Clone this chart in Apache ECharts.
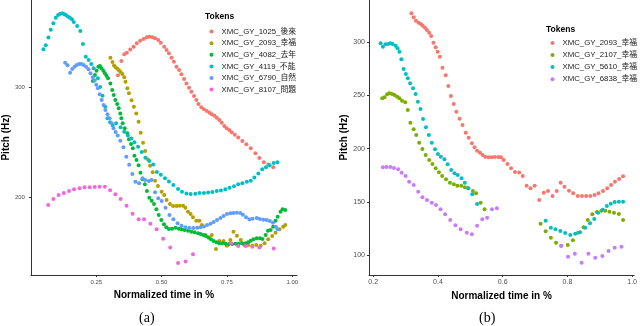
<!DOCTYPE html>
<html>
<head>
<meta charset="utf-8">
<script src="https://cdn.jsdelivr.net/npm/echarts@6/dist/echarts.min.js"></script>
<style>
  html, body { margin: 0; padding: 0; background: #fff; }
  #chart { width: 640px; height: 326px; }
</style>
</head>
<body>
<div id="chart"></div>
<script>
// ---- panel (a) ----
const namesA = ['XMC_GY_1025_後來', 'XMC_GY_2093_幸福', 'XMC_GY_4082_去年', 'XMC_GY_4119_不能', 'XMC_GY_6790_自然', 'XMC_GY_8107_問題']
const colorsA = ['#F8766D', '#B79F00', '#00BA38', '#00BFC4', '#619CFF', '#F564E3']
const xTicksA = [0.25, 0.5, 0.75, 1.0]
const yTicksA = [200, 300]

const a1025 = [[.333,310.6],[.346,323.6],[.357,329.7],[.367,331.2],[.380,334.2],[.393,336.7],[.405,339.7],[.418,342.1],[.431,343.6],[.443,345.2],[.453,345.8],[.465,345.2],[.475,344.3],[.487,342.7],[.497,340.3],[.510,336.7],[.519,333.6],[.528,330.6],[.538,326.7],[.547,323],[.557,318.5],[.567,315.5],[.576,311.5],[.586,307.3],[.595,303.3],[.605,299.4],[.614,295.8],[.624,291.8],[.633,288.2],[.641,284.5],[.652,281.5],[.662,279.7],[.673,278.2],[.683,276.7],[.692,275.2],[.702,273.9],[.711,272.1],[.721,270],[.730,267.6],[.740,264.5],[.749,262.4],[.759,260.9],[.768,258.8],[.780,256.5],[.793,254],[.809,251],[.824,248],[.841,244.3],[.859,239.7],[.874,235.5],[.891,231.5],[.908,229.5],[.927,227]]
const a2093 = [[.304,326.5],[.312,322.8],[.318,319.5],[.324,318],[.331,316.5],[.337,315.2],[.343,313.6],[.350,311.8],[.357,308.8],[.362,304.8],[.369,298.8],[.375,294.3],[.385,288],[.394,282],[.403,276],[.412,268.5],[.420,258.5],[.429,249.4],[.437,241.8],[.448,234.2],[.456,228.5],[.466,222.4],[.475,214.8],[.486,210],[.5,204.8],[.510,201.8],[.519,197.3],[.532,193.6],[.544,191.8],[.557,191.8],[.569,192.1],[.582,192.1],[.591,190.3],[.601,186.7],[.611,184.5],[.620,181.5],[.633,178.5],[.645,178.5],[.654,174.5],[.668,165.5],[.681,163.3],[.692,165.5],[.708,152.7],[.721,160],[.737,160],[.750,155.7],[.763,161],[.775,168.5],[.788,164.8],[.803,160.9],[.816,156.4],[.831,156.4],[.847,155.7],[.862,156.4],[.879,155.7],[.894,157.9],[.908,161.5],[.923,164.5],[.936,167.5],[.951,170.6],[.965,173],[.973,174.5]]
const a4082 = [[.237,305.5],[.245,310.9],[.251,314.8],[.258,318.5],[.264,319.1],[.270,317],[.277,314.8],[.283,312.4],[.289,310.3],[.295,307.9],[.304,303.3],[.311,297.3],[.317,292.7],[.323,288.2],[.330,284.5],[.336,280.6],[.342,276],[.346,271.5],[.351,267],[.359,262.5],[.369,257.9],[.375,252.5],[.383,248.2],[.390,244.3],[.396,237.6],[.404,233.6],[.412,228.8],[.419,222.1],[.427,216.1],[.436,211.5],[.444,205.5],[.453,199.4],[.462,196.6],[.471,193.6],[.480,188.8],[.489,183.6],[.499,179.1],[.509,175.2],[.518,172.5],[.528,170.9],[.540,171.2],[.553,172.1],[.566,171.2],[.576,170.6],[.588,170],[.601,169.4],[.614,168.5],[.626,167.9],[.639,167],[.649,166.4],[.659,165.5],[.669,164.5],[.679,163.3],[.689,161.5],[.699,160],[.710,158.8],[.720,157.9],[.732,157.9],[.745,157.6],[.758,157.3],[.770,157.3],[.783,157.6],[.795,157.6],[.808,157.9],[.821,157.9],[.831,158.8],[.841,160.3],[.851,161.5],[.864,162.4],[.876,162.4],[.886,161.8],[.898,165.5],[.907,169.4],[.917,170],[.927,173],[.936,178.5],[.944,182.1],[.955,186.7],[.963,188.8],[.973,188.2]]
const a4119 = [[.048,334.3],[.057,338],[.067,345],[.076,352],[.086,358],[.095,363],[.104,365.5],[.111,366.3],[.120,367],[.126,366.3],[.134,365.5],[.141,364],[.149,363],[.157,361.5],[.164,359],[.177,355.5],[.189,351],[.199,339],[.210,327.5],[.221,324.5],[.231,321],[.240,317],[.256,308],[.265,300],[.274,292],[.284,282],[.293,271.5],[.303,268],[.313,265],[.326,267],[.343,263.4],[.357,259.4],[.371,256],[.384,253.3],[.396,249.7],[.410,245.7],[.424,240.9],[.438,235.7],[.453,232.7],[.468,229.5],[.482,222.7],[.497,220.3],[.513,217],[.528,214],[.545,210.9],[.563,207.3],[.578,204.8],[.595,203.3],[.611,202.7],[.629,203],[.645,203.6],[.662,203.6],[.678,204.2],[.694,204.5],[.711,205.5],[.727,206],[.744,207],[.760,208.5],[.777,209.8],[.793,211.6],[.809,212.5],[.826,213.8],[.841,214.7],[.855,217.7],[.870,221.3],[.885,225.2],[.899,227],[.913,228.8],[.929,230.9],[.943,231.5]]
const a6790 = [[.131,322.1],[.140,319.7],[.150,313],[.158,316.4],[.167,318.5],[.175,320],[.184,320.9],[.193,320.9],[.202,320],[.211,318.5],[.220,316.1],[.228,312.4],[.237,308.8],[.244,306],[.250,302],[.256,298.8],[.263,293.4],[.271,288.2],[.278,283.6],[.285,279.1],[.293,275.2],[.301,271.5],[.309,267],[.316,262.5],[.324,259],[.332,256],[.342,251.2],[.354,245.2],[.365,236.6],[.376,229.4],[.388,220.9],[.400,213.9],[.414,212.5],[.427,217],[.437,215.5],[.451,214.5],[.462,215.5],[.475,204.3],[.487,198.8],[.500,196.4],[.515,190.3],[.530,183.6],[.545,179.7],[.561,176.1],[.576,173.9],[.591,172.4],[.606,171.8],[.621,171.8],[.636,172.1],[.649,172.4],[.662,173.3],[.674,174.5],[.687,175.8],[.699,177.3],[.712,179.1],[.725,180.9],[.737,182.7],[.750,184.5],[.763,185.2],[.775,185.5],[.788,185.8],[.801,185.5],[.811,183.9],[.823,181.5],[.836,179.7],[.848,180.3],[.864,180.9],[.876,180],[.889,179.4],[.902,179.1],[.914,178.2],[.926,176.7],[.937,173],[.944,170.6]]
const a8107 = [[.066,192.7],[.086,198.2],[.106,201.8],[.126,203.6],[.146,205.5],[.165,207],[.186,207.9],[.205,208.8],[.225,208.8],[.244,209.1],[.263,209.4],[.283,209.4],[.303,206.1],[.323,202.4],[.343,198.2],[.366,192.1],[.389,184.8],[.412,179.7],[.433,179.7],[.457,175.8],[.481,170.6],[.506,162],[.533,154],[.563,140],[.592,141.3],[.620,147.9],[.766,157.9],[.793,155.5],[.822,155.5],[.847,154.8],[.874,154.2],[.929,153.3]]
const dataA = [a1025, a2093, a4082, a4119, a6790, a8107]

// ---- panel (b) ----
const namesB = ['XMC_GY_2093_幸福', 'XMC_GY_2107_幸福', 'XMC_GY_5610_幸福', 'XMC_GY_6838_幸福']
const colorsB = ['#F8766D', '#7CAE00', '#00BFC4', '#C77CFF']
const xTicksB = [0.2, 0.4, 0.6, 0.8, 1.0]
const yTicksB = [100, 150, 200, 250, 300]

const b2093 = [[.318,327.3],[.325,323.5],[.332,320.3],[.340,318.4],[.347,317.2],[.353,315.6],[.360,313.7],[.366,311.6],[.373,309],[.379,305.9],[.386,299.6],[.393,295.3],[.399,291.2],[.406,286.5],[.414,276.1],[.424,269],[.432,258.9],[.440,249.5],[.449,242],[.457,234.7],[.467,228.2],[.476,222.2],[.486,215],[.495,210.3],[.505,205],[.513,201.3],[.521,198.1],[.530,196.2],[.538,194],[.546,192.4],[.556,191.9],[.566,191.9],[.576,192.2],[.587,192.2],[.595,191.9],[.603,189.3],[.615,185.6],[.626,181.5],[.638,178],[.651,177.7],[.662,174.3],[.674,165.2],[.686,162.7],[.699,165.2],[.713,151.7],[.727,158.6],[.740,160.2],[.754,155.5],[.767,160.2],[.779,168],[.791,164.2],[.805,160.5],[.818,158],[.832,155.5],[.845,155.5],[.858,155.5],[.871,155.5],[.884,156.4],[.896,158],[.910,160.2],[.923,162.7],[.935,165.8],[.947,168.9],[.960,171.5],[.972,174]]
const b2107 = [[.228,247.3],[.235,248.3],[.243,251.1],[.250,252],[.258,251.4],[.266,250.4],[.274,248.9],[.281,247.3],[.289,245.1],[.299,243.6],[.307,236.3],[.315,224.4],[.325,218.2],[.333,212.8],[.342,205.6],[.352,199.7],[.362,194],[.373,189.3],[.383,185.6],[.393,181.5],[.403,177.8],[.413,174.3],[.425,171.2],[.437,168],[.449,166.5],[.460,165.2],[.472,165.2],[.483,163.7],[.493,162.7],[.508,160.2],[.518,158],[.532,149.2],[.544,143],[.717,129.4],[.733,122.3],[.749,116.3],[.765,111.6],[.781,108.8],[.801,109.4],[.817,113.8],[.833,121],[.850,126],[.863,132.9],[.877,138.3],[.891,140.4],[.905,141.7],[.917,141.7],[.930,140.7],[.944,139.8],[.959,138.6],[.972,132.9]]
const b5610 = [[.223,299.1],[.230,295.9],[.238,298.1],[.246,298.4],[.253,299.1],[.260,298.4],[.269,296.8],[.275,294.4],[.281,291.2],[.287,284],[.294,274.9],[.301,270.2],[.307,266.1],[.314,261.4],[.323,256.7],[.331,251.4],[.338,244.1],[.346,237.3],[.354,227.9],[.363,220.1],[.372,212.8],[.381,205.6],[.391,199.4],[.400,195],[.409,192.4],[.420,190],[.430,185.3],[.441,179.9],[.451,176.8],[.461,175.2],[.473,172.1],[.483,168],[.494,162.7],[.506,157.1],[.521,148],[.733,132.3],[.749,125.7],[.763,124.2],[.778,122.6],[.793,120.7],[.809,118.8],[.824,120],[.839,121.3],[.855,125.7],[.870,129.8],[.883,133.8],[.895,139.8],[.909,142.6],[.922,146.1],[.934,148.2],[.946,149.8],[.959,150.1],[.972,150.1]]
const b6838 = [[.230,182.5],[.241,182.7],[.253,182.7],[.264,181.8],[.277,180.6],[.288,177.4],[.300,174.3],[.311,168.9],[.325,165.8],[.339,159.5],[.352,154.3],[.366,151.7],[.381,149.2],[.394,147],[.408,143],[.422,138.3],[.438,132.9],[.454,127.9],[.470,124.2],[.489,121],[.505,119.5],[.521,127.6],[.537,133.6],[.552,135.1],[.567,143],[.582,143.9],[.781,108.8],[.802,98.4],[.823,101.2],[.844,92.8],[.865,101.2],[.886,97.5],[.908,99.1],[.927,103.8],[.946,106.9],[.967,107.8]]
const dataB = [b2093, b2107, b5610, b6838]

const FONT = '"Liberation Sans", Arial, "Noto Sans CJK TC", sans-serif'
const AXIS_COLOR = '#333333'

// series in panel (b) get a prefix so the same token name can keep its own colour
const keyB = n => 'b:' + n
const stripKey = n => n.replace(/^b:/, '')

function xAxisFor(gridIndex, min, max, ticks, digits, labelSize) {
  return {
    type: 'value', gridIndex, min, max,
    name: 'Normalized time in %',
    nameLocation: 'middle',
    nameGap: 11,
    nameTextStyle: { fontFamily: FONT, fontWeight: 'bold', fontSize: 10, color: '#000' },
    splitLine: { show: false },
    axisLine: { show: true, lineStyle: { color: AXIS_COLOR, width: 1 } },
    axisTick: { show: true, length: 2, customValues: ticks, lineStyle: { color: AXIS_COLOR } },
    axisLabel: {
      customValues: ticks, margin: 4, fontFamily: FONT, fontSize: labelSize, color: '#4D4D4D',
      formatter: v => v.toFixed(digits)
    }
  }
}

function yAxisFor(gridIndex, min, max, ticks, labelSize, labelMargin, nameGap) {
  return {
    type: 'value', gridIndex, min, max,
    name: 'Pitch (Hz)',
    nameLocation: 'middle',
    nameGap,
    nameTextStyle: { fontFamily: FONT, fontWeight: 'bold', fontSize: 10, color: '#000' },
    splitLine: { show: false },
    axisLine: { show: true, lineStyle: { color: AXIS_COLOR, width: 1 } },
    axisTick: { show: true, length: 2, customValues: ticks, lineStyle: { color: AXIS_COLOR } },
    axisLabel: { customValues: ticks, margin: labelMargin, fontFamily: FONT, fontSize: labelSize, color: '#4D4D4D' }
  }
}

function scatter(name, data, color, axisIndex) {
  return {
    name, type: 'scatter', data,
    xAxisIndex: axisIndex, yAxisIndex: axisIndex,
    symbol: 'circle', symbolSize: 4,
    itemStyle: { color, opacity: 1 },
    emphasis: { disabled: true }
  }
}

function legendFor(names, left, top, gap) {
  return {
    orient: 'vertical', left, top, padding: 0,
    data: names, icon: 'circle',
    itemWidth: 10, itemHeight: 4, itemGap: gap,
    selectedMode: false,
    formatter: stripKey,
    textStyle: { fontFamily: FONT, fontSize: 7.8, color: '#1a1a1a', padding: 0 }
  }
}

const chart = echarts.init(document.getElementById('chart'), null, { renderer: 'canvas' })

const series = []
namesA.forEach((n, i) => series.push(scatter(n, dataA[i], colorsA[i], 0)))
namesB.forEach((n, i) => series.push(scatter(keyB(n), dataB[i], colorsB[i], 1)))

chart.setOption({
  animation: false,
  backgroundColor: '#fff',
  grid: [
    { left: 28, top: 0, width: 269, height: 275 },
    { left: 369, top: 0, width: 268, height: 275 }
  ],
  xAxis: [
    xAxisFor(0, 0.0, 1.018, xTicksA, 2, 6),
    xAxisFor(1, 0.187, 1.006, xTicksB, 1, 7)
  ],
  yAxis: [
    yAxisFor(0, 129.1, 379.1, yTicksA, 6, 6, 14),
    yAxisFor(1, 81.2, 339.8, yTicksB, 7, 4, 16)
  ],
  legend: [
    legendFor(namesA, 209.5, 27.7, 3.8),
    legendFor(namesB.map(keyB), 550.5, 39, 4.3)
  ],
  graphic: [
    { type: 'text', left: 205, top: 12, style: { text: 'Tokens', fontFamily: FONT, fontWeight: 'bold', fontSize: 8.5, fill: '#000' } },
    { type: 'text', left: 546, top: 25, style: { text: 'Tokens', fontFamily: FONT, fontWeight: 'bold', fontSize: 8.5, fill: '#000' } },
    { type: 'text', left: 139, top: 311, style: { text: '(a)', fontFamily: '"Liberation Serif", "Times New Roman", serif', fontSize: 14, fill: '#000' } },
    { type: 'text', left: 479, top: 311, style: { text: '(b)', fontFamily: '"Liberation Serif", "Times New Roman", serif', fontSize: 14, fill: '#000' } }
  ],
  series
})
</script>
</body>
</html>
